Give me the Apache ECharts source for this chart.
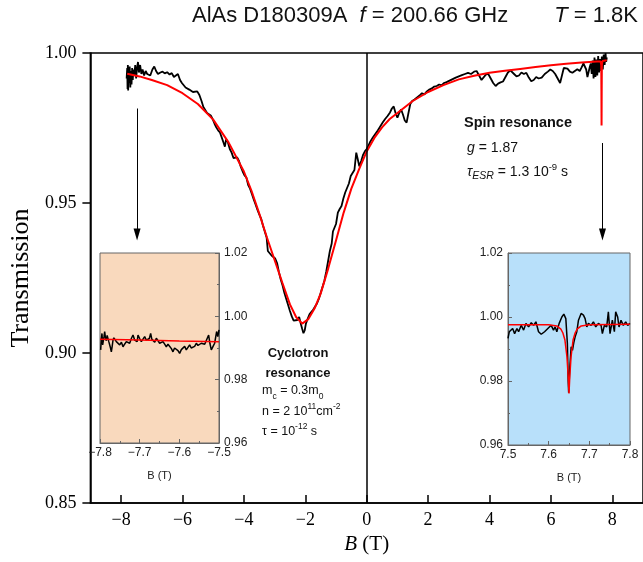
<!DOCTYPE html>
<html>
<head>
<meta charset="utf-8">
<script src="https://cdn.jsdelivr.net/npm/echarts@6.0.0/dist/echarts.min.js"></script>
<style>html,body{margin:0;padding:0;background:#fff}#c{width:643px;height:562px}</style>
</head>
<body>
<div id="c"></div>
<script>
// ---------- main measured data ----------
const mainB = [-7.82,-7.80,-7.79,-7.78,-7.77,-7.76,-7.74,-7.72,-7.70,-7.68,-7.66,-7.64,-7.62,-7.60,-7.57,-7.54,-7.51,-7.48,-7.45,-7.42,-7.38,-7.34,-7.30,-7.25,-7.20,-7.15,-7.10,-7.05,-6.98,-6.92,-6.86,-6.80,-6.72,-6.65,-6.58,-6.50,-6.42,-6.35,-6.28,-6.22,-6.15,-6.08,-6.02,-5.96,-5.90,-5.84,-5.78,-5.72,-5.66,-5.60,-5.52,-5.45,-5.38,-5.32,-5.26,-5.20,-5.14,-5.08,-5.02,-4.96,-4.90,-4.84,-4.78,-4.72,-4.66,-4.62,-4.58,-4.52,-4.46,-4.40,-4.34,-4.28,-4.22,-4.16,-4.10,-4.04,-3.98,-3.92,-3.86,-3.80,-3.74,-3.68,-3.62,-3.56,-3.50,-3.44,-3.38,-3.32,-3.26,-3.22,-3.16,-3.10,-3.04,-2.98,-2.92,-2.86,-2.80,-2.74,-2.68,-2.62,-2.56,-2.50,-2.44,-2.38,-2.32,-2.26,-2.20,-2.14,-2.10,-2.06,-2.02,-1.98,-1.92,-1.86,-1.80,-1.74,-1.68,-1.62,-1.56,-1.50,-1.44,-1.38,-1.32,-1.26,-1.20,-1.14,-1.10,-1.06,-1.00,-0.94,-0.88,-0.82,-0.76,-0.70,-0.64,-0.58,-0.52,-0.46,-0.40,-0.34,-0.30,-0.24,-0.18,-0.12,-0.06,0.00,0.06,0.12,0.20,0.28,0.36,0.44,0.52,0.60,0.68,0.76,0.82,0.88,0.94,1.00,1.06,1.12,1.18,1.24,1.30,1.36,1.42,1.48,1.56,1.64,1.72,1.80,1.88,1.96,2.04,2.12,2.20,2.28,2.36,2.44,2.52,2.60,2.70,2.80,2.90,3.00,3.10,3.20,3.30,3.40,3.50,3.58,3.66,3.74,3.80,3.88,3.96,4.04,4.12,4.20,4.28,4.36,4.44,4.52,4.60,4.68,4.74,4.80,4.88,4.96,5.04,5.12,5.20,5.28,5.36,5.44,5.52,5.60,5.70,5.80,5.90,5.98,6.06,6.14,6.22,6.30,6.36,6.42,6.48,6.54,6.62,6.70,6.78,6.86,6.94,7.00,7.06,7.11,7.15,7.19,7.23,7.27,7.30,7.33,7.36,7.39,7.42,7.45,7.48,7.51,7.54,7.57,7.60,7.63,7.66,7.69,7.72,7.75,7.78,7.80,7.82];
const mainT = [0.9915,0.9950,0.9880,0.9960,0.9875,0.9945,0.9900,0.9955,0.9885,0.9940,0.9895,0.9950,0.9910,0.9945,0.9925,0.9960,0.9915,0.9950,0.9970,0.9935,0.9960,0.9930,0.9945,0.9925,0.9940,0.9930,0.9935,0.9925,0.9945,0.9955,0.9940,0.9930,0.9935,0.9938,0.9932,0.9936,0.9928,0.9933,0.9920,0.9925,0.9930,0.9910,0.9900,0.9895,0.9885,0.9888,0.9878,0.9880,0.9870,0.9868,0.9872,0.9860,0.9840,0.9820,0.9815,0.9800,0.9795,0.9792,0.9780,0.9765,0.9752,0.9742,0.9735,0.9718,0.9700,0.9688,0.9712,0.9702,0.9680,0.9668,0.9650,0.9648,0.9652,0.9640,0.9620,0.9605,0.9592,0.9585,0.9560,0.9548,0.9530,0.9512,0.9495,0.9478,0.9462,0.9448,0.9425,0.9405,0.9385,0.9340,0.9345,0.9325,0.9320,0.9315,0.9300,0.9270,0.9245,0.9225,0.9200,0.9180,0.9160,0.9140,0.9122,0.9108,0.9102,0.9110,0.9120,0.9095,0.9080,0.9066,0.9075,0.9098,0.9115,0.9130,0.9135,0.9145,0.9155,0.9165,0.9180,0.9200,0.9220,0.9240,0.9270,0.9305,0.9340,0.9365,0.9405,0.9415,0.9430,0.9468,0.9480,0.9490,0.9515,0.9535,0.9540,0.9565,0.9590,0.9600,0.9610,0.9668,0.9650,0.9622,0.9640,0.9660,0.9672,0.9680,0.9692,0.9705,0.9718,0.9730,0.9742,0.9755,0.9768,0.9780,0.9790,0.9802,0.9815,0.9822,0.9800,0.9784,0.9800,0.9812,0.9795,0.9775,0.9768,0.9800,0.9830,0.9840,0.9845,0.9852,0.9858,0.9866,0.9862,0.9872,0.9878,0.9882,0.9888,0.9890,0.9895,0.9892,0.9900,0.9903,0.9908,0.9913,0.9918,0.9922,0.9926,0.9930,0.9934,0.9930,0.9938,0.9940,0.9925,0.9910,0.9915,0.9928,0.9930,0.9915,0.9900,0.9890,0.9898,0.9902,0.9905,0.9920,0.9935,0.9942,0.9946,0.9930,0.9922,0.9925,0.9935,0.9930,0.9934,0.9918,0.9906,0.9910,0.9920,0.9915,0.9918,0.9930,0.9938,0.9945,0.9940,0.9930,0.9915,0.9900,0.9925,0.9950,0.9956,0.9948,0.9938,0.9934,0.9940,0.9946,0.9940,0.9952,0.9965,0.9968,0.9945,0.9920,0.9925,0.9955,0.9965,0.9930,0.9975,0.9915,0.9985,0.9920,0.9978,0.9925,0.9990,0.9935,0.9980,0.9940,0.9988,0.9945,0.9995,0.9960,1.0000,0.9970,0.9985];

// main fit (red)
const fitB = [-7.80,-7.40,-7.00,-6.50,-6.00,-5.50,-5.00,-4.50,-4.00,-3.75,-3.50,-3.25,-3.00,-2.75,-2.50,-2.30,-2.10,-1.90,-1.70,-1.50,-1.25,-1.00,-0.75,-0.50,-0.25,0.00,0.25,0.50,0.75,1.00,1.50,2.00,2.50,3.00,3.50,4.00,4.50,5.00,5.50,6.00,6.50,7.00,7.50,7.62,7.64,7.645,7.65,7.655,7.66,7.68,7.82];
const fitT = [0.9931,0.9922,0.9910,0.9893,0.9866,0.9830,0.9778,0.9702,0.9605,0.9540,0.9465,0.9385,0.9310,0.9235,0.9162,0.9120,0.9098,0.9113,0.9148,0.9198,0.9283,0.9375,0.9468,0.9548,0.9612,0.9672,0.9717,0.9752,0.9780,0.9800,0.9840,0.9870,0.9893,0.9912,0.9924,0.9934,0.9941,0.9947,0.9953,0.9959,0.9964,0.9968,0.9972,0.9972,0.9960,0.9880,0.9758,0.9880,0.9960,0.9973,0.9976];

// left inset data
const leftB = [-7.7983,-7.7966,-7.795,-7.7933,-7.7916,-7.790,-7.7882,-7.786,-7.784,-7.782,-7.780,-7.7778,-7.7756,-7.7735,-7.7714,-7.7693,-7.7672,-7.765,-7.763,-7.761,-7.7588,-7.7546,-7.7504,-7.746,-7.742,-7.738,-7.7336,-7.7294,-7.7252,-7.721,-7.7168,-7.7126,-7.7084,-7.7063,-7.7042,-7.700,-7.6958,-7.6916,-7.6874,-7.6832,-7.679,-7.6756,-7.6723,-7.6694,-7.6664,-7.662,-7.658,-7.654,-7.6496,-7.6454,-7.6412,-7.637,-7.6328,-7.6286,-7.6244,-7.620,-7.616,-7.612,-7.6076,-7.6034,-7.5992,-7.595,-7.5908,-7.5866,-7.5824,-7.578,-7.574,-7.570,-7.5656,-7.5614,-7.5572,-7.553,-7.5488,-7.5446,-7.5404,-7.536,-7.532,-7.5261,-7.523,-7.5194,-7.515,-7.511,-7.506,-7.503,-7.500];
const leftT = [0.9894,0.9930,0.9946,0.9910,0.9905,0.9935,0.9952,0.9930,0.9923,0.9940,0.9936,0.9920,0.9915,0.9900,0.9888,0.9905,0.9925,0.9932,0.9936,0.9928,0.9920,0.9915,0.9910,0.9918,0.9904,0.9912,0.9920,0.9925,0.9915,0.9930,0.9941,0.9925,0.9931,0.9920,0.9941,0.9930,0.9920,0.9928,0.9936,0.9925,0.9920,0.9930,0.9946,0.9928,0.9925,0.9918,0.9931,0.9925,0.9915,0.9920,0.9920,0.9912,0.9904,0.9912,0.9910,0.9898,0.9888,0.9900,0.9904,0.9892,0.9883,0.9895,0.9899,0.9905,0.9894,0.9900,0.9910,0.9900,0.9894,0.9905,0.9915,0.9908,0.9904,0.9915,0.9920,0.9912,0.9910,0.9941,0.9915,0.9894,0.9905,0.9915,0.9952,0.9936,0.9957];
const leftFitB = [-7.8,-7.7,-7.6,-7.5];
const leftFitT = [0.9928,0.9925,0.9922,0.9920];

// right inset data
const rightB = [7.500,7.5032,7.5081,7.5114,7.5163,7.5220,7.5261,7.5326,7.5384,7.5441,7.5506,7.5572,7.5629,7.5686,7.5751,7.5817,7.5899,7.5980,7.6062,7.6119,7.6160,7.6201,7.6258,7.6324,7.6373,7.6422,7.6460,7.6480,7.6492,7.6520,7.6553,7.6585,7.6618,7.6651,7.6692,7.6733,7.6798,7.6855,7.6896,7.6937,7.6978,7.7043,7.7100,7.7158,7.7223,7.7289,7.7321,7.7370,7.7427,7.7468,7.7509,7.7566,7.7616,7.7648,7.7697,7.7730,7.7779,7.7836,7.7894,7.7943,7.8000];
const rightT = [0.9933,0.9954,0.9948,0.9964,0.9948,0.9964,0.9954,0.9974,0.9959,0.9980,0.9969,0.9982,0.9974,0.9985,0.9954,0.9946,0.9954,0.9964,0.9974,0.9959,0.9969,0.9954,0.9980,1.0000,1.0009,0.9995,0.9917,0.9800,0.9763,0.9844,0.9907,0.9896,0.9920,0.9938,0.9954,0.9990,1.0011,1.0006,0.9995,0.9969,0.9980,0.9974,0.9985,0.9969,0.9980,0.9974,0.9948,0.9974,0.9969,1.0016,0.9948,0.9990,0.9954,1.0016,1.0000,0.9969,0.9990,0.9974,0.9985,0.9974,0.9980];
const rightFitB = [7.50,7.60,7.62,7.63,7.635,7.64,7.645,7.648,7.650,7.652,7.655,7.66,7.665,7.67,7.68,7.70,7.80];
const rightFitT = [0.9976,0.9976,0.9972,0.9962,0.9950,0.9928,0.9875,0.9815,0.9761,0.9815,0.9875,0.9928,0.9950,0.9962,0.9972,0.9976,0.9977];

// ticks / annotations
const mainXTicks = [-8,-6,-4,-2,0,2,4,6,8];
const leftArrow = [[-7.48,0.9815],[-7.48,0.9395]];
const rightArrow = [[7.68,0.9700],[7.68,0.9395]];

const pair = (xs, ys) => xs.map((x, i) => [x, ys[i]]);
const minus = v => (v < 0 ? '\u2212' + String(-v) : String(v));
const serif = 'Liberation Serif';
const sans = 'Liberation Sans';

const chart = echarts.init(document.getElementById('c'), null, {renderer: 'canvas'});

const insetX = (gi, min, max) => ({
  gridIndex: gi, type: 'value', min: min, max: max, interval: 0.1,
  axisLine: {show: true, onZero: false, lineStyle: {color: '#666', width: 1}},
  axisTick: {inside: true, length: 4, lineStyle: {color: '#666'}},
  minorTick: {show: true, splitNumber: 2, length: 2, lineStyle: {color: '#666'}},
  splitLine: {show: false},
  axisLabel: {fontFamily: sans, fontSize: 12, color: '#222', margin: 4,
    formatter: v => minus(Number(v.toFixed(1)))},
  name: 'B (T)', nameLocation: 'middle', nameGap: 27,
  nameTextStyle: {fontFamily: sans, fontSize: 11, color: '#222'}
});
const insetY = (gi, pos) => ({
  gridIndex: gi, type: 'value', position: pos, min: 0.96, max: 1.02, interval: 0.02,
  axisLine: {show: true, onZero: false, lineStyle: {color: '#666', width: 1}},
  axisTick: {inside: true, length: 4, lineStyle: {color: '#666'}},
  minorTick: {show: true, splitNumber: 2, length: 2, lineStyle: {color: '#666'}},
  splitLine: {show: false},
  axisLabel: {fontFamily: sans, fontSize: 12, color: '#222', margin: 5,
    formatter: v => v.toFixed(2)}
});

const option = {
  animation: false,
  backgroundColor: '#fff',
  grid: [
    {left: 88, right: -2, top: 53, bottom: 59, show: true, borderColor: '#000', borderWidth: 1.5, backgroundColor: 'transparent'},
    {left: 100, width: 119, top: 253, height: 190, show: true, backgroundColor: '#f9d9bd', borderColor: '#666', borderWidth: 1},
    {left: 508, width: 122, top: 253, height: 192, show: true, backgroundColor: '#b8e0fa', borderColor: '#666', borderWidth: 1}
  ],
  xAxis: [
    {gridIndex: 0, type: 'value', min: -9, max: 9,
      axisLine: {show: true, onZero: false, lineStyle: {color: '#000', width: 1.5}},
      axisTick: {show: true, inside: true, length: 8, customValues: mainXTicks, lineStyle: {color: '#000', width: 1.5}},
      splitLine: {show: false},
      axisLabel: {customValues: mainXTicks, fontFamily: serif, fontSize: 18, color: '#000', margin: 8, formatter: v => minus(v)},
      name: '{i|B} (T)', nameLocation: 'middle', nameGap: 27,
      nameTextStyle: {fontFamily: serif, fontSize: 21, color: '#000',
        rich: {i: {fontFamily: serif, fontSize: 21, fontStyle: 'italic', color: '#000'}}}
    },
    insetX(1, -7.8, -7.5),
    insetX(2, 7.5, 7.8)
  ],
  yAxis: [
    {gridIndex: 0, type: 'value', min: 0.85, max: 1.0, interval: 0.05,
      axisLine: {show: true, onZero: false, lineStyle: {color: '#000', width: 1.5}},
      axisTick: {show: true, inside: false, length: 8, lineStyle: {color: '#000', width: 1.5}},
      splitLine: {show: false},
      axisLabel: {fontFamily: serif, fontSize: 18, color: '#000', margin: 14, formatter: v => v.toFixed(2)},
      name: 'Transmission', nameLocation: 'middle', nameGap: 54,
      nameTextStyle: {fontFamily: serif, fontSize: 26, color: '#000', padding: [0, 0, 0, 0]}
    },
    insetY(1, 'right'),
    insetY(2, 'left')
  ],
  series: [
    {type: 'line', xAxisIndex: 0, yAxisIndex: 0, data: pair(mainB, mainT), showSymbol: false, symbol: 'none',
      lineStyle: {color: '#000', width: 1.8}, z: 3,
      markLine: {silent: true, symbol: ['none', 'none'], label: {show: false},
        lineStyle: {color: '#000', width: 1.5, type: 'solid'},
        data: [{xAxis: 0}]}
    },
    {type: 'line', xAxisIndex: 0, yAxisIndex: 0, data: pair(fitB, fitT), showSymbol: false, symbol: 'none',
      lineStyle: {color: '#f00', width: 2}, z: 4,
      markLine: {silent: true, symbol: ['none', 'triangle'], symbolSize: [7, 12], label: {show: false},
        lineStyle: {color: '#000', width: 1, type: 'solid'},
        data: [
          [{coord: leftArrow[0]}, {coord: leftArrow[1]}],
          [{coord: rightArrow[0]}, {coord: rightArrow[1]}]
        ]}
    },
    {type: 'line', xAxisIndex: 1, yAxisIndex: 1, data: pair(leftB, leftT), showSymbol: false, symbol: 'none',
      lineStyle: {color: '#000', width: 1.5}, z: 5},
    {type: 'line', xAxisIndex: 1, yAxisIndex: 1, data: pair(leftFitB, leftFitT), showSymbol: false, symbol: 'none',
      lineStyle: {color: '#f00', width: 1.5}, z: 6},
    {type: 'line', xAxisIndex: 2, yAxisIndex: 2, data: pair(rightB, rightT), showSymbol: false, symbol: 'none',
      lineStyle: {color: '#000', width: 1.5}, z: 5},
    {type: 'line', xAxisIndex: 2, yAxisIndex: 2, data: pair(rightFitB, rightFitT), showSymbol: false, symbol: 'none', smooth: false,
      lineStyle: {color: '#f00', width: 1.5}, z: 6}
  ],
  graphic: []
};

const tstyle = (text, fs, extra) => Object.assign({
  text: text, fontFamily: sans, fontSize: fs, fill: '#111', lineHeight: 20,
  textVerticalAlign: 'middle', textAlign: 'left',
  rich: {
    sub: {fontFamily: sans, fontSize: fs * 0.68, lineHeight: 9, verticalAlign: 'bottom', fill: '#111'},
    sup: {fontFamily: sans, fontSize: fs * 0.68, lineHeight: 9, verticalAlign: 'top', fill: '#111'},
    isub: {fontFamily: sans, fontSize: fs * 0.75, lineHeight: 9, verticalAlign: 'bottom', fontStyle: 'italic', fill: '#111'},
    i: {fontFamily: sans, fontSize: fs, fontStyle: 'italic', fill: '#111'}
  }
}, extra || {});

option.graphic = [
  {type: 'text', x: 192, y: 16, style: {text: 'AlAs D180309A  {i|f} = 200.66 GHz', fontFamily: sans, fontSize: 22, fill: '#111',
    textVerticalAlign: 'middle', rich: {i: {fontFamily: sans, fontSize: 22, fontStyle: 'italic', fill: '#111'}}}},
  {type: 'text', x: 638, y: 16, style: {text: '{i|T} = 1.8K', fontFamily: sans, fontSize: 22, fill: '#111', textAlign: 'right',
    textVerticalAlign: 'middle', rich: {i: {fontFamily: sans, fontSize: 22, fontStyle: 'italic', fill: '#111'}}}},
  {type: 'text', x: 298, y: 353, style: tstyle('Cyclotron', 13, {fontWeight: 'bold', textAlign: 'center'})},
  {type: 'text', x: 298, y: 373, style: tstyle('resonance', 13, {fontWeight: 'bold', textAlign: 'center'})},
  {type: 'text', x: 262, y: 391, style: tstyle('m{sub|c} = 0.3m{sub|0}', 12.5)},
  {type: 'text', x: 262, y: 412, style: tstyle('n = 2 10{sup|11}cm{sup|-2}', 12.5)},
  {type: 'text', x: 262, y: 432, style: tstyle('\u03c4 = 10{sup|-12} s', 12.5)},
  {type: 'text', x: 464, y: 123, style: tstyle('Spin resonance', 14.5, {fontWeight: 'bold'})},
  {type: 'text', x: 467, y: 148, style: tstyle('{i|g} = 1.87', 14)},
  {type: 'text', x: 467, y: 172, style: tstyle('{i|\u03c4}{isub|ESR} = 1.3 10{sup|-9} s', 14)}
];

chart.setOption(option);
</script>
</body>
</html>
